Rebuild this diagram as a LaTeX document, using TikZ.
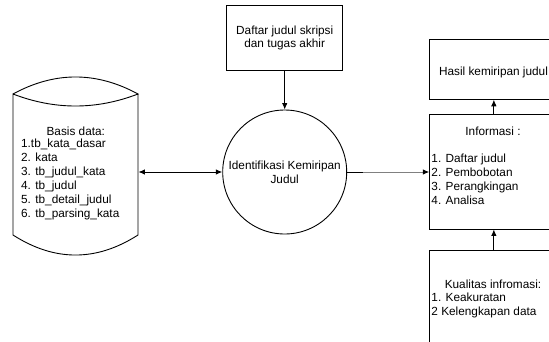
\documentclass[tikz,border=0pt]{standalone}
\usepackage{fontspec}
\setmainfont{Liberation Sans}
\usetikzlibrary{arrows.meta}
\begin{document}
\begin{tikzpicture}[x=1pt,y=-1pt, line width=0.9pt,
  every node/.style={font=\fontsize{11.8}{14}\selectfont, inner sep=0pt, text=black},
  arr/.style={-{Latex[length=6.5pt,width=5.5pt,color=black]}},
  darr/.style={{Latex[length=6.5pt,width=5.5pt]}-{Latex[length=6.5pt,width=5.5pt]}},
  tight/.style={font=\fontsize{11.8}{13}\selectfont}]
\useasboundingbox (0,0) rectangle (549,341);
\clip (0,0) rectangle (549,341);

% database cylinder
\draw (13,94) .. controls (54.7,71.3) and (96.3,71.3) .. (138,94)
  .. controls (96.3,110) and (54.7,110) .. (13,94) -- (13,235)
  .. controls (54.7,261.7) and (96.3,261.7) .. (138,235) -- (138,94);
\node[minimum width=125pt, minimum height=178pt] (db) at (75.5,166) {};
\node (dbtitle) at (75.8,131) {Basis data:};
\node[align=left, anchor=west] (dblist) at (20.7,179)
  {1.tb\_kata\_dasar\\2. kata\\3. tb\_judul\_kata\\4. tb\_judul\\5. tb\_detail\_judul\\6. tb\_parsing\_kata};

% source box
\node[draw, minimum width=116pt, minimum height=64.3pt, align=center, tight] (src)
  at (284.7,37.85) {Daftar judul skripsi\\dan tugas akhir};

% process circle
\node[draw, circle, minimum size=124pt, align=center] (circ) at (284.7,172)
  {Identifikasi Kemiripan\\Judul};

% result box
\node[draw, minimum width=129pt, minimum height=60pt] (hasil) at (493.5,69.3) {};
\node (hasilt) at (493.5,72) {Hasil kemiripan judul};

% information box
\node[draw, minimum width=128.3pt, minimum height=115pt] (info) at (493.85,171.5) {};
\node (infot) at (493,131) {Informasi :};
\node[align=left, anchor=west] (infol) at (431,179)
  {1. Daftar judul\\2. Pembobotan\\3. Perangkingan\\4. Analisa};

% quality box
\node[draw, minimum width=128.3pt, minimum height=120pt] (kual) at (493.85,310) {};
\node (kualt) at (493,284) {Kualitas infromasi:};
\node[align=left, anchor=west, font=\fontsize{11.8}{13.5}\selectfont] (kuall) at (431,305.5)
  {1. Keakuratan\\2 Kelengkapan data};

% connectors
\coordinate (mid) at (362.7,172);
\draw[arr] (src) -- (circ);
\draw[darr] (db.east |- circ.west) -- (circ.west);
\draw (circ.east) -- (circ.east -| mid);
\draw[arr, gray] (mid) -- (mid -| info.west);
\draw[arr] (info.north) -- (info.north |- hasil.south);
\draw[arr] (kual.north) -- (info.south);
\end{tikzpicture}
\end{document}
